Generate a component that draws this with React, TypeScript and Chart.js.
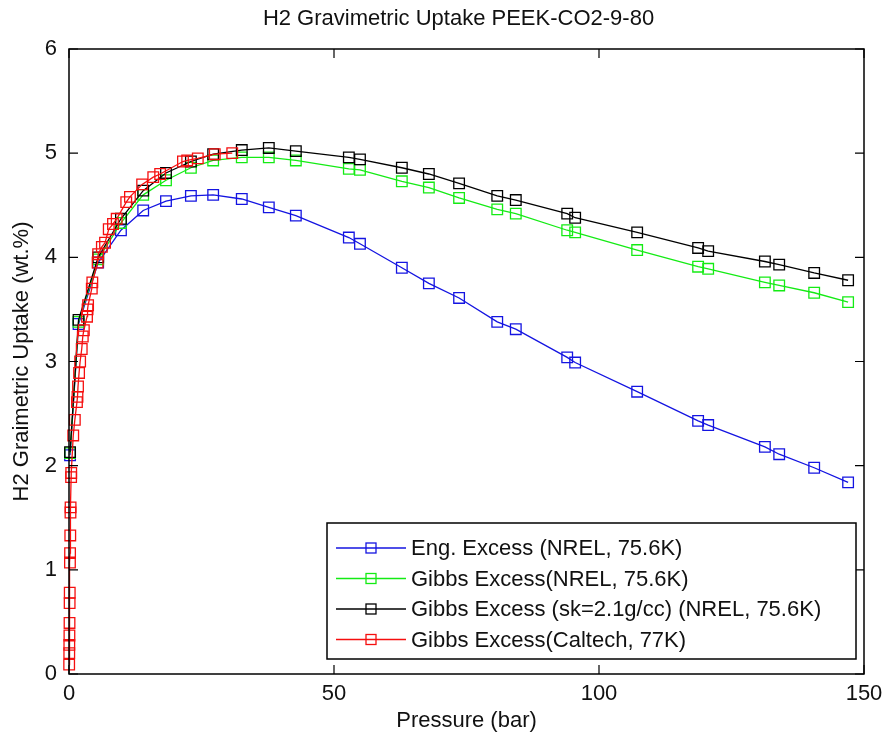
import React, { useEffect, useRef } from "react";
import { Chart, registerables } from "chart.js";

Chart.register(...registerables);

// ---- Data ----
const chartTitle = "H2 Gravimetric Uptake PEEK-CO2-9-80";
const xAxisTitle = "Pressure (bar)";
const yAxisTitle = "H2 Graimetric Uptake (wt.%)";
const xTicks = [0, 50, 100, 150];
const yTicks = [0, 1, 2, 3, 4, 5, 6];

const seriesLabels = [
  "Eng. Excess (NREL, 75.6K)",
  "Gibbs Excess(NREL, 75.6K)",
  "Gibbs Excess (sk=2.1g/cc) (NREL, 75.6K)",
  "Gibbs Excess(Caltech, 77K)",
];

const nrelPressure = [0.2, 1.8, 5.5, 9.8, 14.0, 18.3, 23.0, 27.2, 32.6, 37.7, 42.8, 52.8, 54.9, 62.8, 67.9, 73.6, 80.8, 84.3, 94.0, 95.5, 107.2, 118.7, 120.6, 131.3, 134.0, 140.6, 147.0];
const engExcess = [2.10, 3.36, 3.95, 4.26, 4.45, 4.54, 4.59, 4.60, 4.56, 4.48, 4.40, 4.19, 4.13, 3.90, 3.75, 3.61, 3.38, 3.31, 3.04, 2.99, 2.71, 2.43, 2.39, 2.18, 2.11, 1.98, 1.84];
const gibbsExcess = [2.12, 3.38, 3.98, 4.33, 4.60, 4.74, 4.86, 4.93, 4.96, 4.96, 4.93, 4.85, 4.84, 4.73, 4.67, 4.57, 4.46, 4.42, 4.26, 4.24, 4.07, 3.91, 3.89, 3.76, 3.73, 3.66, 3.57];
const gibbsSk = [2.13, 3.40, 4.00, 4.37, 4.64, 4.81, 4.92, 4.99, 5.03, 5.05, 5.02, 4.96, 4.94, 4.86, 4.80, 4.71, 4.59, 4.55, 4.42, 4.38, 4.24, 4.09, 4.06, 3.96, 3.93, 3.85, 3.78];

const caltechPressure = [0.03, 0.05, 0.06, 0.08, 0.10, 0.12, 0.14, 0.18, 0.20, 0.24, 0.28, 0.30, 0.40, 0.42, 0.8, 1.1, 1.5, 1.6, 1.7, 1.9, 2.1, 2.4, 2.6, 2.8, 3.4, 3.5, 3.6, 4.3, 4.4, 5.4, 5.5, 6.2, 6.8, 7.5, 8.3, 9.0, 10.8, 11.5, 13.8, 15.9, 17.2, 21.5, 22.3, 24.3, 27.5, 30.8];
const caltechExcess = [0.09, 0.20, 0.28, 0.37, 0.49, 0.68, 0.78, 1.07, 1.16, 1.33, 1.55, 1.60, 1.89, 1.93, 2.29, 2.44, 2.61, 2.66, 2.76, 2.89, 3.00, 3.12, 3.24, 3.30, 3.43, 3.50, 3.54, 3.70, 3.76, 3.95, 4.03, 4.10, 4.14, 4.27, 4.32, 4.37, 4.53, 4.58, 4.70, 4.77, 4.80, 4.92, 4.93, 4.95, 4.99, 5.00];

const seriesColors = ["rgb(20,20,225)", "rgb(20,235,20)", "rgb(0,0,0)", "rgb(245,15,15)"];

const FONT = '"Liberation Sans", Arial, Helvetica, sans-serif';
const FONT_SIZE = 22;

const toPoints = (xs: number[], ys: number[]) => xs.map((x, i) => ({ x, y: ys[i] }));

function squareAt(ctx: CanvasRenderingContext2D, cx: number, cy: number, side: number) {
  ctx.strokeRect(cx - side / 2, cy - side / 2, side, side);
}

const framePlugin = {
  id: "frameAndLegend",
  afterDraw(chart: any) {
    const { ctx, chartArea: a, scales } = chart;
    const xs = scales.x;
    const ys = scales.y;
    ctx.save();
    // box
    ctx.strokeStyle = "#000";
    ctx.lineWidth = 1.5;
    ctx.strokeRect(a.left, a.top, a.right - a.left, a.bottom - a.top);
    // inner ticks
    const tl = 9;
    ctx.lineWidth = 1.2;
    ctx.beginPath();
    xTicks.forEach((v) => {
      const px = xs.getPixelForValue(v);
      ctx.moveTo(px, a.bottom);
      ctx.lineTo(px, a.bottom - tl);
      ctx.moveTo(px, a.top);
      ctx.lineTo(px, a.top + tl);
    });
    yTicks.forEach((v) => {
      const py = ys.getPixelForValue(v);
      ctx.moveTo(a.left, py);
      ctx.lineTo(a.left + tl, py);
      ctx.moveTo(a.right, py);
      ctx.lineTo(a.right - tl, py);
    });
    ctx.stroke();

    // titles
    ctx.fillStyle = "#111";
    ctx.font = `${FONT_SIZE}px ${FONT}`;
    ctx.textAlign = "center";
    ctx.textBaseline = "middle";
    const cx = (a.left + a.right) / 2;
    ctx.fillText(chartTitle, cx - 8, 19);
    ctx.fillText(xAxisTitle, cx, 721);
    ctx.save();
    ctx.translate(22, (a.top + a.bottom) / 2);
    ctx.rotate(-Math.PI / 2);
    ctx.fillText(yAxisTitle, 0, 0);
    ctx.restore();

    // legend box
    const bx = 327;
    const by = 523;
    const bw = a.right - 8 - bx;
    const bh = a.bottom - 15 - by;
    ctx.fillStyle = "#fff";
    ctx.fillRect(bx, by, bw, bh);
    ctx.strokeStyle = "#000";
    ctx.lineWidth = 1.5;
    ctx.strokeRect(bx, by, bw, bh);
    const rowH = 30.5;
    seriesLabels.forEach((label, i) => {
      const ry = by + 25 + i * rowH;
      ctx.strokeStyle = seriesColors[i];
      ctx.lineWidth = 1.3;
      ctx.beginPath();
      ctx.moveTo(bx + 9, ry);
      ctx.lineTo(bx + 79, ry);
      ctx.stroke();
      squareAt(ctx, bx + 44, ry, 10);
      ctx.fillStyle = "#111";
      ctx.textAlign = "left";
      ctx.textBaseline = "middle";
      ctx.font = `${FONT_SIZE}px ${FONT}`;
      ctx.fillText(label, bx + 84, ry + 1);
    });
    ctx.restore();
  },
};

export default function App() {
  const canvasRef = useRef<HTMLCanvasElement | null>(null);

  useEffect(() => {
    if (!canvasRef.current) return;
    const mk = (i: number, pts: { x: number; y: number }[], order: number) => ({
      label: seriesLabels[i],
      data: pts,
      showLine: true,
      borderColor: seriesColors[i],
      borderWidth: 1.3,
      pointStyle: "rect",
      pointRadius: 7.5,
      pointBorderWidth: 1.3,
      pointBorderColor: seriesColors[i],
      pointBackgroundColor: "rgba(0,0,0,0)",
      tension: 0,
      clip: false,
      order,
    });
    const chart = new Chart(canvasRef.current, {
      type: "scatter",
      data: {
        datasets: [
          mk(0, toPoints(nrelPressure, engExcess), 3),
          mk(1, toPoints(nrelPressure, gibbsExcess), 2),
          mk(2, toPoints(nrelPressure, gibbsSk), 1),
          mk(3, toPoints(caltechPressure, caltechExcess), 0),
        ] as any,
      },
      options: {
        animation: false,
        responsive: false,
        maintainAspectRatio: false,
        layout: { padding: { top: 49, right: 19, left: 0, bottom: 0 } },
        plugins: {
          legend: { display: false },
          title: { display: false },
          tooltip: { enabled: false },
        },
        scales: {
          x: {
            type: "linear",
            min: 0,
            max: 150,
            grid: { display: false, drawTicks: false },
            border: { display: false },
            afterBuildTicks: (s: any) => {
              s.ticks = xTicks.map((v) => ({ value: v }));
            },
            afterFit: (s: any) => {
              s.height = 64;
              s.paddingLeft = 0;
              s.paddingRight = 0;
            },
            ticks: {
              font: { family: FONT, size: FONT_SIZE },
              color: "#111",
              padding: 7,
              maxRotation: 0,
              autoSkip: false,
            },
          },
          y: {
            type: "linear",
            min: 0,
            max: 6,
            grid: { display: false, drawTicks: false },
            border: { display: false },
            afterBuildTicks: (s: any) => {
              s.ticks = yTicks.map((v) => ({ value: v }));
            },
            afterFit: (s: any) => {
              s.width = 69;
              s.paddingTop = 0;
              s.paddingBottom = 0;
            },
            ticks: {
              font: { family: FONT, size: FONT_SIZE },
              color: "#111",
              padding: 12,
              autoSkip: false,
            },
          },
        },
      },
      plugins: [framePlugin],
    });
    return () => chart.destroy();
  }, []);

  return (
    <div style={{ position: "fixed", left: 0, top: 0, width: 883, height: 738, background: "#fff" }}>
      <canvas ref={canvasRef} width={883} height={738} style={{ width: 883, height: 738, display: "block" }} />
    </div>
  );
}
